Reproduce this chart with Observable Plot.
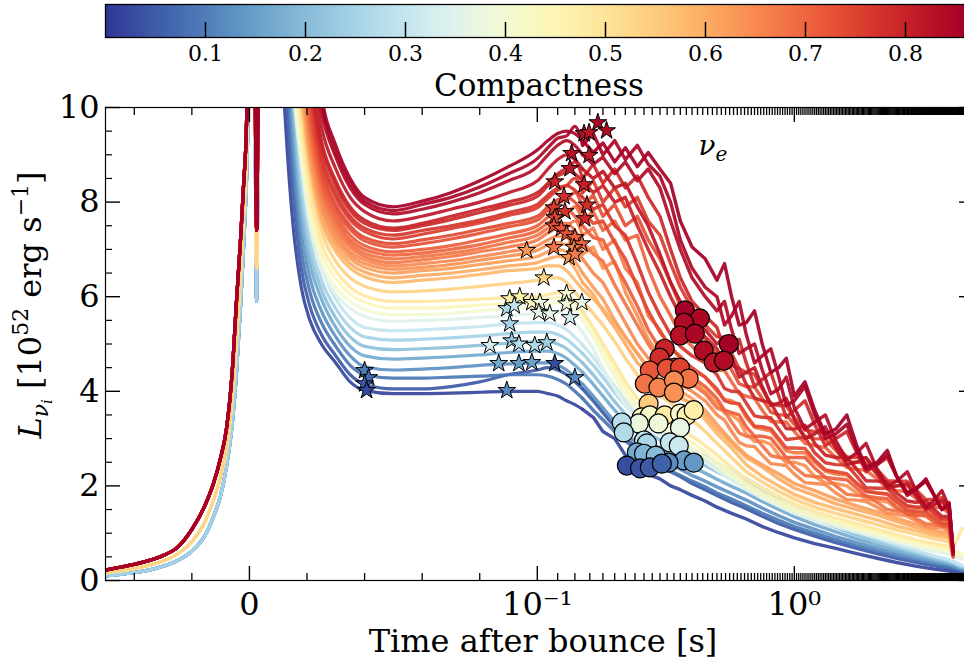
<!DOCTYPE html>
<html><head><meta charset="utf-8">
<script src="https://cdn.jsdelivr.net/npm/d3@7"></script>
<script src="https://cdn.jsdelivr.net/npm/@observablehq/plot@0.6"></script>
<style>
html,body{margin:0;padding:0;background:#fff;overflow:hidden;width:964px;height:665px;}
#chart{position:relative;width:964px;height:665px;}
#chart svg{display:block;overflow:hidden;position:absolute;left:0;}
</style></head><body><div id="chart"></div>
<script>
// ---------- time grids (s after bounce) ----------
const preTimes = [-0.05, -0.045, -0.04, -0.035, -0.03, -0.025, -0.02, -0.015, -0.0125, -0.01, -0.008, -0.006, -0.0045, -0.003, -0.002, -0.001, 0, 0.0015, 0.0025, 0.0035, 0.006, 0.009];
const postTimes = [0.012, 0.015, 0.018, 0.021, 0.025, 0.03, 0.035, 0.04, 0.05, 0.06, 0.07, 0.08, 0.09, 0.1, 0.11, 0.12, 0.13, 0.14, 0.15, 0.165, 0.18, 0.2, 0.22, 0.245, 0.27, 0.3, 0.33, 0.36, 0.4, 0.45, 0.5, 0.57, 0.65, 0.75, 0.87, 1.0, 1.2, 1.45, 1.75, 2.1, 2.5, 3.0, 3.5, 4.0, 4.15, 4.5];
const noiseTimes = [0.535, 0.61, 0.7, 0.81, 0.93, 1.1, 1.32, 1.6, 1.9, 2.3, 2.75, 3.25, 3.75];

// ---------- pre-bounce luminosity (three families) ----------
const preBlue = [0.1, 0.13, 0.17, 0.22, 0.3, 0.42, 0.62, 1.0, 1.35, 1.8, 2.4, 3.3, 4.4, 5.9, 7.1, 8.5, 10.8, 14, 5.9, 14, 14, 14];
const prePale = [0.16, 0.2, 0.25, 0.32, 0.41, 0.56, 0.82, 1.3, 1.7, 2.2, 2.8, 3.85, 5.1, 6.6, 7.8, 9.1, 12, 14, 6.6, 14, 14, 14];
const preRed  = [0.22, 0.28, 0.34, 0.42, 0.53, 0.7, 1.08, 1.65, 2.05, 2.6, 3.2, 4.4, 5.9, 7.3, 8.4, 9.7, 14, 14, 7.4, 14, 14, 14];

// ---------- compactness of each model ----------
const compactness = [0.02, 0.05, 0.09, 0.13, 0.17, 0.21, 0.25, 0.30, 0.35, 0.40, 0.44, 0.49, 0.54, 0.58, 0.62, 0.65, 0.68, 0.71, 0.74, 0.77, 0.80, 0.82, 0.84, 0.86,
  0.60, 0.64, 0.67, 0.70, 0.73, 0.76, 0.79, 0.85];

// ---------- post-bounce luminosity per model (10^52 erg/s) ----------
const m01 = [10.2, 7.6, 6.2, 5.5, 5.0, 4.6, 4.2, 4.02, 3.95, 3.95, 3.96, 3.98, 4.0, 4.0, 3.95, 3.9, 3.8, 3.72, 3.62, 3.45, 3.15, 3.0, 2.65, 2.5, 2.25, 2.15, 2.0, 1.92, 1.8, 1.68, 1.55, 1.42, 1.3, 1.14, 1.01, 0.9, 0.78, 0.68, 0.57, 0.47, 0.38, 0.3, 0.24, 0.2, 0.18, 0.15];
const m02 = [11, 8.3, 6.6, 5.8, 5.2, 4.75, 4.35, 4.15, 4.05, 4.05, 4.1, 4.2, 4.35, 4.45, 4.5, 4.45, 4.35, 4.2, 4.05, 3.8, 3.55, 3.25, 3.0, 2.8, 2.6, 2.45, 2.3, 2.2, 2.05, 1.92, 1.8, 1.65, 1.52, 1.36, 1.2, 1.08, 0.94, 0.8, 0.68, 0.57, 0.47, 0.38, 0.31, 0.26, 0.24, 0.19];
const m03 = [12, 8.9, 7.0, 6.1, 5.45, 4.95, 4.55, 4.35, 4.28, 4.28, 4.3, 4.32, 4.35, 4.35, 4.32, 4.25, 4.15, 4.0, 3.85, 3.6, 3.4, 3.15, 2.95, 2.75, 2.6, 2.45, 2.32, 2.22, 2.1, 1.98, 1.85, 1.72, 1.58, 1.42, 1.27, 1.14, 1.0, 0.86, 0.73, 0.62, 0.52, 0.42, 0.35, 0.29, 0.27, 0.22];
const m04 = [13, 9.4, 7.4, 6.4, 5.7, 5.15, 4.75, 4.52, 4.45, 4.47, 4.5, 4.55, 4.58, 4.6, 4.6, 4.55, 4.45, 4.3, 4.15, 3.9, 3.65, 3.35, 3.1, 2.9, 2.75, 2.6, 2.45, 2.35, 2.22, 2.1, 1.98, 1.84, 1.7, 1.53, 1.37, 1.23, 1.08, 0.93, 0.8, 0.68, 0.57, 0.47, 0.39, 0.33, 0.3, 0.24];
const m05 = [13, 9.9, 7.8, 6.7, 5.95, 5.35, 4.95, 4.75, 4.68, 4.7, 4.73, 4.77, 4.82, 4.85, 4.85, 4.8, 4.7, 4.55, 4.4, 4.15, 3.9, 3.6, 3.35, 3.12, 2.95, 2.8, 2.65, 2.53, 2.4, 2.27, 2.14, 1.99, 1.85, 1.67, 1.5, 1.35, 1.18, 1.03, 0.88, 0.75, 0.63, 0.52, 0.43, 0.36, 0.33, 0.26];
const m06 = [13, 10.3, 8.1, 6.95, 6.15, 5.55, 5.15, 4.95, 4.88, 4.9, 4.93, 4.97, 5.02, 5.05, 5.05, 5.0, 4.9, 4.75, 4.6, 4.35, 4.1, 3.78, 3.52, 3.3, 3.12, 2.97, 2.82, 2.7, 2.56, 2.43, 2.3, 2.14, 1.99, 1.8, 1.62, 1.46, 1.28, 1.12, 0.96, 0.82, 0.69, 0.57, 0.47, 0.39, 0.36, 0.28];
const m07 = [13, 10.7, 8.4, 7.2, 6.35, 5.75, 5.35, 5.15, 5.08, 5.1, 5.13, 5.17, 5.22, 5.25, 5.25, 5.2, 5.1, 4.95, 4.8, 4.55, 4.3, 3.97, 3.7, 3.45, 3.27, 3.1, 2.95, 2.82, 2.68, 2.54, 2.4, 2.24, 2.08, 1.88, 1.7, 1.53, 1.35, 1.18, 1.01, 0.86, 0.72, 0.6, 0.5, 0.42, 0.38, 0.3];
const m08 = [13, 11, 8.8, 7.5, 6.6, 5.95, 5.55, 5.35, 5.28, 5.3, 5.33, 5.37, 5.42, 5.45, 5.45, 5.4, 5.3, 5.15, 4.98, 4.72, 4.45, 4.1, 3.82, 3.57, 3.38, 3.2, 3.05, 2.92, 2.78, 2.63, 2.49, 2.32, 2.16, 1.96, 1.77, 1.6, 1.41, 1.23, 1.06, 0.9, 0.76, 0.63, 0.52, 0.44, 0.4, 0.32];
const m09 = [13, 10.5, 8.8, 7.5, 6.6, 6.05, 5.75, 5.58, 5.48, 5.5, 5.52, 5.56, 5.6, 5.65, 5.68, 5.68, 5.6, 5.45, 5.25, 4.9, 4.5, 4.05, 3.7, 3.4, 3.22, 3.08, 2.95, 2.83, 2.68, 2.5, 2.33, 2.12, 1.92, 1.74, 1.57, 1.42, 1.27, 1.14, 1.02, 0.91, 0.8, 0.7, 0.62, 0.56, 0.54, 0.45];
const m10 = [13, 10.7, 9.0, 7.7, 6.75, 6.2, 5.9, 5.73, 5.62, 5.62, 5.65, 5.7, 5.75, 5.8, 5.85, 5.88, 5.85, 5.7, 5.5, 5.15, 4.75, 4.3, 3.9, 3.58, 3.38, 3.22, 3.08, 2.95, 2.8, 2.6, 2.42, 2.2, 1.98, 1.79, 1.62, 1.47, 1.32, 1.19, 1.07, 0.96, 0.85, 0.75, 0.67, 0.61, 0.59, 0.5];
const m11 = [13, 11.0, 9.3, 7.95, 6.95, 6.38, 6.05, 5.88, 5.76, 5.76, 5.78, 5.82, 5.86, 5.9, 5.95, 5.98, 5.95, 5.85, 5.65, 5.3, 4.9, 4.45, 4.05, 3.7, 3.5, 3.35, 3.2, 3.08, 2.92, 2.72, 2.52, 2.28, 2.05, 1.85, 1.68, 1.53, 1.38, 1.25, 1.13, 1.02, 0.91, 0.8, 0.72, 0.66, 0.64, 0.55];
const m12 = [13, 11.3, 9.6, 8.2, 7.15, 6.55, 6.2, 6.02, 5.9, 5.9, 5.92, 5.95, 5.98, 6.0, 6.05, 6.08, 6.05, 5.9, 5.7, 5.35, 5.0, 4.6, 4.2, 3.85, 3.65, 3.48, 3.35, 3.22, 3.05, 2.85, 2.65, 2.4, 2.15, 1.95, 1.77, 1.62, 1.46, 1.32, 1.2, 1.08, 0.97, 0.86, 0.78, 0.72, 0.7, 1.1];
const m13 = [13, 11.7, 10.0, 8.55, 7.4, 6.75, 6.4, 6.22, 6.1, 6.12, 6.16, 6.22, 6.28, 6.35, 6.4, 6.4, 6.3, 6.1, 5.9, 5.65, 5.4, 5.05, 4.7, 4.35, 4.1, 3.9, 3.75, 3.6, 3.4, 3.15, 2.9, 2.6, 2.3, 2.08, 1.88, 1.72, 1.55, 1.42, 1.3, 1.18, 1.07, 0.97, 0.88, 0.82, 0.5, null];
const m14 = [13, 12, 10.3, 8.8, 7.6, 6.95, 6.6, 6.42, 6.3, 6.35, 6.4, 6.47, 6.55, 6.6, 6.65, 6.65, 6.55, 6.35, 6.15, 5.95, 5.75, 5.45, 5.15, 4.8, 4.5, 4.25, 4.05, 3.9, 3.7, 3.4, 3.1, 2.8, 2.45, 2.2, 2.0, 1.82, 1.65, 1.52, 1.4, 1.28, 1.15, 1.05, 0.95, 0.9, 0.5, null];
const m15 = [13, 12.2, 10.6, 9.0, 7.85, 7.15, 6.8, 6.62, 6.5, 6.55, 6.6, 6.68, 6.76, 6.85, 6.95, 7.0, 6.95, 6.75, 6.5, 6.2, 5.95, 5.5, 5.15, 4.8, 4.5, 4.25, 4.1, 4.0, 3.85, 3.6, 3.3, 2.95, 2.65, 2.45, 2.25, 2.05, 1.9, 1.72, 1.58, 1.45, 1.32, 1.18, 1.06, 1.0, 0.5, null];
const m16 = [13, 12.5, 10.9, 9.3, 8.05, 7.35, 6.95, 6.78, 6.65, 6.7, 6.76, 6.85, 6.95, 7.08, 7.2, 7.28, 7.25, 7.05, 6.8, 6.5, 6.3, 5.85, 5.45, 5.0, 4.7, 4.4, 4.25, 4.15, 4.0, 3.8, 3.5, 3.15, 2.85, 2.65, 2.45, 2.25, 2.05, 1.85, 1.7, 1.55, 1.4, 1.25, 1.12, 1.05, 0.55, null];
const m17 = [13, 13, 11.3, 9.6, 8.3, 7.55, 7.12, 6.92, 6.8, 6.85, 6.92, 7.02, 7.15, 7.3, 7.45, 7.55, 7.55, 7.4, 7.15, 6.9, 6.75, 6.25, 5.85, 5.4, 5.0, 4.65, 4.45, 4.3, 4.15, 3.95, 3.65, 3.35, 3.05, 2.85, 2.6, 2.4, 2.2, 2.0, 1.8, 1.65, 1.47, 1.3, 1.18, 1.1, 0.5, null];
const m18 = [13, 13, 11.6, 9.9, 8.5, 7.75, 7.3, 7.08, 6.95, 7.0, 7.08, 7.2, 7.33, 7.5, 7.68, 7.8, 7.85, 7.7, 7.5, 7.25, 7.2, 6.7, 6.3, 5.8, 5.3, 4.9, 4.65, 4.45, 4.3, 4.1, 3.85, 3.55, 3.25, 3.05, 2.8, 2.6, 2.38, 2.15, 1.95, 1.75, 1.55, 1.38, 1.25, 1.15, 0.5, null];
const m19 = [13, 13, 12, 10.2, 8.75, 7.95, 7.5, 7.25, 7.12, 7.2, 7.3, 7.42, 7.55, 7.7, 7.9, 8.05, 8.1, 8.0, 7.8, 7.55, 7.6, 7.15, 6.8, 6.2, 5.7, 5.25, 4.95, 4.7, 4.5, 4.3, 4.05, 3.75, 3.5, 3.25, 3.0, 2.8, 2.55, 2.3, 2.05, 1.85, 1.65, 1.45, 1.32, 1.2, 0.55, null];
const m20 = [13, 13, 12.2, 10.5, 9.0, 8.2, 7.7, 7.45, 7.3, 7.4, 7.5, 7.62, 7.78, 7.95, 8.15, 8.3, 8.35, 8.25, 8.1, 7.85, 7.95, 7.5, 7.3, 6.7, 6.1, 5.6, 5.2, 4.95, 4.75, 4.6, 4.35, 4.0, 3.75, 3.45, 3.2, 3.0, 2.7, 2.45, 2.2, 1.95, 1.75, 1.55, 1.42, 1.3, 0.6, null];
const m21 = [13, 13, 12.5, 10.8, 9.3, 8.45, 7.9, 7.62, 7.45, 7.55, 7.7, 7.85, 8.0, 8.2, 8.4, 8.6, 8.7, 8.6, 8.45, 8.2, 8.35, 8.0, 8.1, 7.5, 7.0, 6.5, 6.0, 5.6, 5.35, 5.15, 4.9, 4.55, 4.15, 3.8, 3.45, 3.2, 2.9, 2.6, 2.35, 2.1, 1.85, 1.65, 1.5, 1.35, 0.55, null];
const m22 = [13, 13, 13, 11.2, 9.6, 8.7, 8.1, 7.8, 7.6, 7.7, 7.85, 8.0, 8.2, 8.45, 8.7, 8.9, 9.0, 8.9, 8.7, 8.5, 8.65, 8.3, 8.4, 7.9, 7.5, 6.9, 6.3, 5.9, 5.5, 5.3, 5.0, 4.7, 4.4, 4.1, 3.75, 3.4, 3.1, 2.8, 2.5, 2.25, 2.0, 1.75, 1.6, 1.45, 0.6, null];
const m23 = [13, 13, 13, 11.5, 9.9, 8.95, 8.3, 7.95, 7.75, 7.85, 8.0, 8.2, 8.45, 8.75, 9.0, 9.2, 9.3, 9.2, 9.0, 8.8, 8.95, 8.6, 8.85, 8.45, 8.7, 8.3, 7.6, 7.0, 6.4, 6.0, 5.7, 5.3, 4.9, 4.45, 4.05, 3.65, 3.35, 2.95, 2.7, 2.35, 2.1, 1.85, 1.7, 1.55, 0.55, null];
const m24 = [13, 13, 13, 13, 10.3, 9.2, 8.5, 8.1, 7.9, 8.02, 8.2, 8.45, 8.75, 9.1, 9.3, 9.45, 9.5, 9.45, 9.3, 9.05, 9.25, 8.85, 9.15, 8.75, 9.05, 8.7, 8.4, 7.6, 7.05, 6.8, 6.35, 6.0, 5.45, 5.0, 4.5, 3.9, 3.6, 3.2, 2.85, 2.5, 2.2, 1.95, 1.8, 1.62, 0.6, null];
const m25 = [13, 12.1, 10.45, 8.9, 7.7, 7.05, 6.7, 6.52, 6.4, 6.45, 6.5, 6.57, 6.65, 6.72, 6.8, 6.85, 6.8, 6.6, 6.3, 6.05, 5.7, 5.35, 5.0, 4.6, 4.4, 4.2, 4.05, 3.85, 3.75, 3.5, 3.2, 2.9, 2.6, 2.4, 2.15, 1.95, 1.8, 1.62, 1.5, 1.38, 1.25, 1.12, 1.0, 0.95, 0.5, null];
const m26 = [13, 12.4, 10.8, 9.2, 7.95, 7.25, 6.88, 6.7, 6.58, 6.62, 6.68, 6.77, 6.86, 6.98, 7.1, 7.15, 7.1, 7.3, 6.9, 7.05, 6.6, 6.75, 6.1, 5.6, 5.1, 4.75, 4.6, 4.35, 4.25, 4.0, 3.75, 3.5, 3.1, 2.95, 2.65, 2.5, 2.2, 2.05, 1.85, 1.7, 1.52, 1.4, 1.22, 1.15, 0.5, null];
const m27 = [13, 13, 11.1, 9.45, 8.2, 7.45, 7.05, 6.85, 6.72, 6.78, 6.85, 6.95, 7.05, 7.2, 7.35, 7.45, 7.5, 7.6, 7.3, 7.45, 7.0, 7.2, 6.6, 6.3, 5.6, 5.3, 4.9, 4.75, 4.45, 4.3, 4.0, 3.8, 3.45, 3.2, 2.95, 2.7, 2.5, 2.25, 2.05, 1.85, 1.68, 1.5, 1.36, 1.25, 0.55, null];
const m28 = [13, 13, 11.45, 9.75, 8.4, 7.65, 7.2, 7.0, 6.88, 6.92, 7.0, 7.1, 7.24, 7.4, 7.56, 7.7, 7.75, 7.9, 7.6, 7.8, 7.4, 7.6, 7.2, 7.3, 6.6, 6.0, 5.6, 5.2, 4.95, 4.7, 4.45, 4.2, 3.9, 3.6, 3.35, 3.15, 2.85, 2.6, 2.35, 2.15, 1.9, 1.72, 1.55, 1.42, 0.6, null];
const m29 = [13, 13, 11.8, 10.05, 8.65, 7.85, 7.42, 7.18, 7.05, 7.12, 7.22, 7.34, 7.48, 7.62, 7.82, 7.98, 8.05, 8.2, 7.9, 8.15, 7.7, 7.95, 7.5, 7.7, 7.2, 6.8, 6.3, 5.8, 5.4, 5.1, 4.8, 4.45, 4.1, 3.85, 3.5, 3.3, 3.0, 2.75, 2.5, 2.25, 2.0, 1.8, 1.62, 1.5, 0.6, null];
const m30 = [13, 13, 12.1, 10.4, 8.9, 8.1, 7.62, 7.38, 7.22, 7.32, 7.44, 7.56, 7.72, 7.88, 8.08, 8.25, 8.35, 8.5, 8.2, 8.45, 8.0, 8.3, 7.9, 8.1, 7.6, 7.3, 6.7, 6.2, 5.75, 5.4, 5.15, 4.8, 4.4, 4.05, 3.7, 3.45, 3.15, 2.85, 2.6, 2.35, 2.1, 1.9, 1.72, 1.58, 0.6, null];
const m31 = [13, 13, 12.4, 10.7, 9.2, 8.35, 7.82, 7.55, 7.4, 7.5, 7.63, 7.78, 7.93, 8.12, 8.35, 8.55, 8.65, 8.85, 8.5, 8.8, 8.4, 8.7, 8.3, 8.55, 8.1, 7.7, 7.0, 6.4, 5.9, 5.6, 5.35, 5.0, 4.6, 4.25, 3.9, 3.6, 3.3, 3.0, 2.7, 2.45, 2.2, 1.98, 1.8, 1.65, 0.6, null];
const m32 = [13, 13, 13, 12.0, 10.1, 9.05, 8.4, 8.02, 7.82, 7.95, 8.1, 8.32, 8.6, 8.92, 9.15, 9.35, 9.4, 9.6, 9.2, 9.45, 9.0, 9.3, 8.9, 9.2, 8.8, 8.55, 8.0, 7.2, 6.6, 6.2, 6.0, 5.6, 5.2, 4.75, 4.3, 3.8, 3.5, 3.1, 2.75, 2.45, 2.2, 1.95, 1.8, 1.6, 0.6, null];
const models = [m01, m02, m03, m04, m05, m06, m07, m08, m09, m10, m11, m12, m13, m14, m15, m16, m17, m18, m19, m20, m21, m22, m23, m24,
  m25, m26, m27, m28, m29, m30, m31, m32];

// ---------- extra noisy late-time samples of the high-compactness models (at noiseTimes) ----------
const q16 = [3.39, 2.92, 2.83, 2.47, 2.43, 2.07, 2.03, 1.71, 1.67, 1.42, 1.36, 1.14, 1.12];
const q17 = [3.58, 3.12, 3.03, 2.64, 2.58, 2.22, 2.18, 1.82, 1.79, 1.5, 1.44, 1.2, 1.18];
const q18 = [3.6, 3.5, 3.05, 3.01, 2.6, 2.6, 2.18, 2.13, 1.78, 1.73, 1.4, 1.37, 1.15];
const q19 = [3.8, 3.74, 3.26, 3.21, 2.8, 2.79, 2.34, 2.26, 1.88, 1.83, 1.48, 1.44, 1.2];
const q20 = [4.06, 3.99, 3.48, 3.44, 2.98, 3.03, 2.49, 2.44, 1.96, 1.95, 1.58, 1.57, 1.3];
const q21 = [4.59, 4.48, 3.86, 3.76, 3.21, 3.28, 2.65, 2.61, 2.11, 2.09, 1.68, 1.69, 1.36];
const q22 = [5.15, 4.3, 4.5, 3.7, 3.85, 3.0, 3.25, 2.45, 2.6, 1.95, 2.05, 1.5, 1.7];
const q23 = [5.9, 4.8, 5.0, 3.95, 4.3, 3.2, 3.5, 2.55, 2.9, 2.0, 2.3, 1.55, 1.9];
const q24 = [6.7, 5.4, 5.7, 4.4, 4.7, 4.2, 3.1, 3.5, 2.4, 2.75, 1.85, 2.15, 1.5];
const q26 = [3.54, 3.38, 2.94, 2.88, 2.49, 2.43, 2.06, 2.0, 1.71, 1.66, 1.42, 1.36, 1.14];
const q27 = [3.83, 3.71, 3.24, 3.16, 2.74, 2.7, 2.31, 2.23, 1.9, 1.83, 1.55, 1.49, 1.26];
const q28 = [4.44, 3.95, 3.85, 3.36, 3.35, 2.9, 2.81, 2.39, 2.33, 1.94, 1.88, 1.57, 1.54];
const q29 = [4.74, 4.16, 4.09, 3.56, 3.5, 3.05, 2.99, 2.51, 2.49, 2.01, 2.0, 1.61, 1.66];
const q30 = [5.14, 4.48, 4.36, 3.74, 3.69, 3.18, 3.13, 2.61, 2.59, 2.11, 2.1, 1.71, 1.75];
const q31 = [4.85, 5.1, 4.1, 4.4, 3.45, 3.8, 2.85, 3.15, 2.3, 2.6, 1.85, 2.1, 1.5];
const q32 = [5.4, 5.9, 4.6, 4.9, 3.7, 4.1, 3.0, 3.3, 2.35, 2.65, 1.8, 2.1, 1.5];
const noiseOf = new Map([[m16, q16], [m17, q17], [m18, q18], [m19, q19], [m20, q20], [m21, q21], [m22, q22], [m23, q23], [m24, q24],
  [m26, q26], [m27, q27], [m28, q28], [m29, q29], [m30, q30], [m31, q31], [m32, q32]]);

// ---------- stars (time, luminosity, compactness) ----------
const starT = [0.040, 0.0414, 0.040, 0.0407, 0.0835, 0.0866, 0.0894, 0.0904, 0.0894, 0.0911, 0.0936, 0.0936, 0.0981, 0.0991, 0.1089, 0.1169, 0.140,
  0.0904, 0.0939, 0.0981, 0.1023, 0.1014, 0.1118, 0.130, 0.130, 0.134, 0.149, 0.092, 0.106, 0.0963,
  0.172, 0.186, 0.152, 0.159, 0.136, 0.159, 0.134, 0.117, 0.152, 0.127, 0.156, 0.116, 0.128, 0.153, 0.117, 0.116, 0.124, 0.130, 0.140, 0.149, 0.116, 0.139, 0.133, 0.140];
const starL = [4.44, 4.29, 4.16, 4.02, 4.97, 4.59, 4.02, 5.43, 5.75, 5.07, 5.0, 4.59, 4.61, 4.97, 5.03, 4.59, 4.29,
  5.96, 6.0, 5.88, 5.88, 5.67, 5.64, 6.07, 5.85, 5.56, 5.88, 5.81, 6.4, 6.98,
  9.68, 9.51, 9.45, 9.47, 9.03, 8.99, 8.71, 8.43, 8.37, 8.12, 7.94, 7.88, 7.8, 7.65, 7.67, 7.5, 7.44, 7.33, 7.25, 7.12, 7.04, 7.04, 6.83, 6.9];
const starC = [0.10, 0.07, 0.05, 0.03, 0.33, 0.17, 0.12, 0.25, 0.27, 0.22, 0.28, 0.15, 0.16, 0.27, 0.24, 0.03, 0.12,
  0.47, 0.46, 0.44, 0.38, 0.37, 0.36, 0.40, 0.39, 0.33, 0.36, 0.30, 0.53, 0.63,
  0.85, 0.84, 0.83, 0.82, 0.83, 0.81, 0.82, 0.80, 0.80, 0.78, 0.78, 0.76, 0.77, 0.79, 0.74, 0.74, 0.72, 0.73, 0.70, 0.70, 0.68, 0.66, 0.64, 0.67];

// ---------- circles (time, luminosity, compactness) ----------
const circT = [0.375, 0.429, 0.372, 0.359, 0.41, 0.444, 0.556, 0.486, 0.532,
  0.313, 0.299, 0.343, 0.274, 0.319, 0.359, 0.388, 0.262, 0.296, 0.34, 0.34, 0.271,
  0.255, 0.274, 0.313, 0.359, 0.381, 0.406, 0.248, 0.296, 0.359,
  0.213, 0.217, 0.26, 0.267, 0.328, 0.355,
  0.244, 0.26, 0.289, 0.372, 0.406, 0.324,
  0.223, 0.251, 0.274, 0.305];
const circL = [5.71, 5.54, 5.45, 5.18, 5.22, 4.86, 5.0, 4.61, 4.65,
  4.9, 4.71, 4.5, 4.44, 4.48, 4.5, 4.27, 4.16, 4.08, 4.23, 3.97, 3.74,
  3.45, 3.49, 3.49, 3.53, 3.49, 3.6, 3.32, 3.32, 3.23,
  3.34, 3.13, 2.96, 2.9, 2.92, 2.85,
  2.71, 2.68, 2.64, 2.54, 2.49, 2.49,
  2.43, 2.37, 2.39, 2.47];
const circC = [0.86, 0.85, 0.84, 0.83, 0.85, 0.84, 0.86, 0.82, 0.84,
  0.80, 0.78, 0.74, 0.72, 0.73, 0.75, 0.68, 0.68, 0.66, 0.65, 0.64, 0.55,
  0.43, 0.42, 0.48, 0.41, 0.46, 0.47, 0.38, 0.39, 0.37,
  0.28, 0.27, 0.29, 0.26, 0.30, 0.31,
  0.17, 0.19, 0.20, 0.15, 0.14, 0.12,
  0.03, 0.04, 0.05, 0.06];

// ---------- tick labels ----------
const xMajorTimes = [0, 0.1, 1];
const xMajorLabels = ["0", "10\u207B\u00B9", "10\u2070"];
const yMajor = [0, 2, 4, 6, 8, 10];
const yMinor = [0.5, 1, 1.5, 2.5, 3, 3.5, 4.5, 5, 5.5, 6.5, 7, 7.5, 8.5, 9, 9.5];
const cbTicks = [0.1, 0.2, 0.3, 0.4, 0.5, 0.6, 0.7, 0.8];

// ---------- build rows (low compactness drawn first) ----------
const order = d3.range(models.length).sort((a, b) => compactness[a] - compactness[b]);
const rowsEarly = [], rowsLate = [];
order.forEach(k => {
  const vals = models[k];
  const c = compactness[k];
  const pre = c < 0.3 ? preBlue : (c < 0.55 ? prePale : preRed);
  const pts = [];
  preTimes.forEach((t, i) => pts.push({t, L: pre[i]}));
  postTimes.forEach((t, i) => pts.push({t, L: vals[i]}));
  const q = noiseOf.get(vals);
  if (q) noiseTimes.forEach((t, i) => pts.push({t, L: q[i]}));
  pts.sort((a, b) => a.t - b.t);
  pts.forEach(p => {
    if (p.t <= 0.15) rowsEarly.push({id: k, c, t: p.t, L: p.L});
    if (p.t >= 0.15) rowsLate.push({id: k, c, t: p.t, L: p.L});
  });
});
const stars = starT.map((t, i) => ({t, L: starL[i], c: starC[i]}));
const circles = circT.map((t, i) => ({t, L: circL[i], c: circC[i]}));

// matplotlib-like symlog (linthresh 0.1)
const sl = t => Math.abs(t) <= 0.1 ? t * 11.2 : Math.sign(t) * (1.12 + Math.log10(Math.abs(t) / 0.1));
const xMajor = xMajorTimes.map(sl);
const xMinor = d3.range(-2, 247).filter(i => i !== 0 && i !== 5 && i !== 50).map(i => sl(i / 50));

const colorOpts = {type: "linear", scheme: "RdYlBu", reverse: true, domain: [0, 0.86]};
const FONT = "DejaVu Serif";
const blank = () => "";

// ---------- colorbar ----------
const cbSteps = d3.range(0, 0.86, 0.002);
const cb = Plot.plot({
  width: 964, height: 106, marginLeft: 105, marginRight: -1, marginTop: 4, marginBottom: 69,
  style: {fontFamily: FONT, background: "white", overflow: "hidden"},
  x: {domain: [0, 0.86], axis: null},
  y: {domain: [0, 1], axis: null},
  color: colorOpts,
  marks: [
    Plot.rect(cbSteps, {x1: d => d, x2: d => d + 0.0022, y1: 0, y2: 1, fill: d => d + 0.001}),
    Plot.frame({stroke: "black", strokeWidth: 1.3}),
    Plot.axisX({ticks: cbTicks, tickSize: 15, dy: -15, tickFormat: blank, strokeWidth: 1.5, label: null}),
    Plot.axisX({ticks: cbTicks, tickSize: 0, tickPadding: 8, fontSize: 22, tickFormat: d => d.toFixed(1), label: null})
  ]
});
d3.select(cb).append("text").attr("x", 539).attr("y", 96).attr("text-anchor", "middle")
  .attr("font-family", FONT).attr("font-size", 31).attr("fill", "black").text("Compactness");
cb.style.top = "0px";

// ---------- main chart (svg placed at page y = 80, transparent) ----------
const lineOpts = {x: d => sl(d.t), y: "L", z: "id", stroke: "c", strokeOpacity: 0.92, clip: true};
const main = Plot.plot({
  width: 964, height: 585, marginLeft: 105, marginRight: -9, marginTop: 27, marginBottom: 85,
  style: {fontFamily: FONT, fontSize: "32px", background: "transparent", overflow: "hidden"},
  x: {domain: [-0.56, 2.817], axis: null},
  y: {domain: [0, 10], axis: null},
  color: colorOpts,
  marks: [
    Plot.line(rowsEarly, {...lineOpts, strokeWidth: 3.2, curve: "monotone-x"}),
    Plot.line(rowsLate, {...lineOpts, strokeWidth: 3.4, curve: "linear"}),
    Plot.dot(stars, {x: d => sl(d.t), y: "L", fill: "c", symbol: "star", r: 5.6, stroke: "black", strokeWidth: 1}),
    Plot.dot(circles, {x: d => sl(d.t), y: "L", fill: "c", r: 9.5, stroke: "black", strokeWidth: 1.2}),
    Plot.frame({stroke: "black", strokeWidth: 1.2}),
    Plot.axisX({ticks: xMajor, anchor: "bottom", tickSize: 14, dy: -14, tickFormat: blank, strokeWidth: 1.4, label: null}),
    Plot.axisX({ticks: xMinor, anchor: "bottom", tickSize: 7, dy: -7, tickFormat: blank, strokeWidth: 1.3, label: null}),
    Plot.axisX({ticks: xMajor, anchor: "top", tickSize: 14, dy: 14, tickFormat: blank, strokeWidth: 1.4, label: null}),
    Plot.axisX({ticks: xMinor, anchor: "top", tickSize: 7, dy: 7, tickFormat: blank, strokeWidth: 1.3, label: null}),
    Plot.axisX({ticks: xMajor, anchor: "bottom", tickSize: 0, tickPadding: 12, fontSize: 32, tickFormat: v => xMajorLabels[xMajor.indexOf(v)], label: null}),
    Plot.axisY({ticks: yMajor, anchor: "left", tickSize: 15, dx: 15, tickFormat: blank, strokeWidth: 1.4, label: null}),
    Plot.axisY({ticks: yMinor, anchor: "left", tickSize: 7, dx: 7, tickFormat: blank, strokeWidth: 1.2, label: null}),
    Plot.axisY({ticks: yMajor, anchor: "right", tickSize: 15, dx: -15, tickFormat: blank, strokeWidth: 1.4, label: null}),
    Plot.axisY({ticks: yMajor, anchor: "left", tickSize: 0, tickPadding: 6, fontSize: 32, label: null})
  ]
});
const ms = d3.select(main);
ms.append("text").attr("x", 543).attr("y", 572).attr("text-anchor", "middle")
  .attr("font-family", FONT).attr("font-size", 32).attr("fill", "black").text("Time after bounce [s]");
const yl = ms.append("text").attr("transform", "translate(41,225) rotate(-90)").attr("text-anchor", "middle")
  .attr("font-family", FONT).attr("font-size", 32).attr("fill", "black");
yl.append("tspan").attr("font-style", "italic").text("L");
yl.append("tspan").attr("font-style", "italic").attr("font-size", 22).attr("dy", 7).text("\u03BD");
yl.append("tspan").attr("font-style", "italic").attr("font-size", 15).attr("dy", 4).text("i");
yl.append("tspan").attr("dy", -11).text(" [10");
yl.append("tspan").attr("font-size", 22).attr("dy", -13).text("52");
yl.append("tspan").attr("dy", 13).text(" erg s");
yl.append("tspan").attr("font-size", 22).attr("dy", -13).text("\u22121");
yl.append("tspan").attr("dy", 13).text("]");
const nu = ms.append("text").attr("x", 713).attr("y", 75).attr("font-family", FONT).attr("fill", "black");
nu.append("tspan").attr("font-style", "italic").attr("font-size", 28).text("\u03BD");
nu.append("tspan").attr("font-style", "italic").attr("font-size", 20).attr("dy", 6).text("e");
main.style.top = "80px";

const chart = document.getElementById("chart");
chart.appendChild(cb);
chart.appendChild(main);
</script>
</body></html>
